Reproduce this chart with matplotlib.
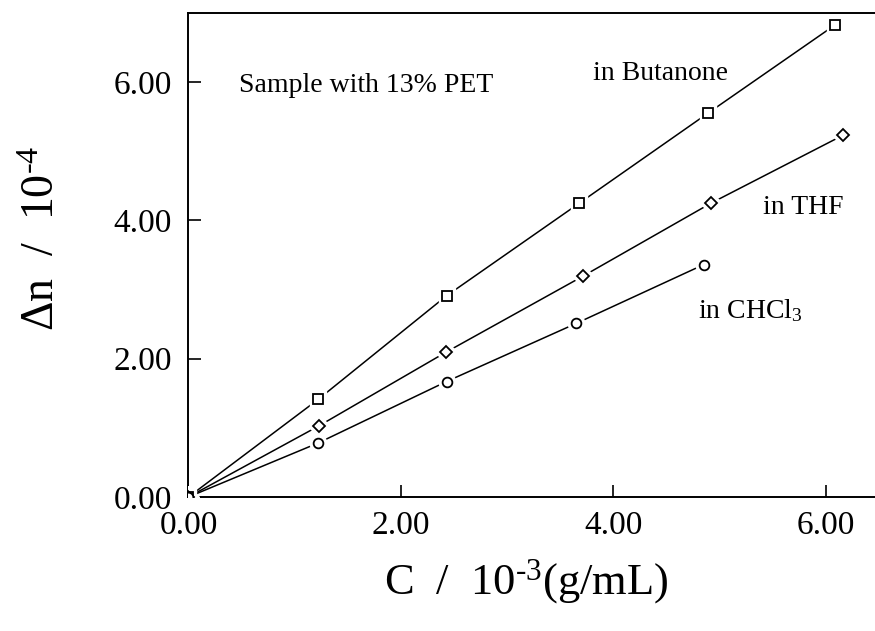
import matplotlib
matplotlib.use('Agg')
import matplotlib.pyplot as plt

plt.rcParams['font.family'] = ['Liberation Serif', 'DejaVu Serif']
plt.rcParams['mathtext.fontset'] = 'custom'
plt.rcParams['mathtext.rm'] = 'Liberation Serif'
plt.rcParams['mathtext.it'] = 'Liberation Serif:italic'

# concentration (10^-3 g/mL) and birefringence (10^-4)
c_butanone = [0.0, 1.22, 2.43, 3.68, 4.89, 6.09]
dn_butanone = [0.0, 1.41, 2.91, 4.25, 5.55, 6.83]
c_thf = [0.0, 1.23, 2.42, 3.71, 4.92, 6.16]
dn_thf = [0.0, 1.03, 2.09, 3.19, 4.25, 5.23]
c_chcl3 = [0.0, 1.22, 2.43, 3.65, 4.85]
dn_chcl3 = [0.0, 0.78, 1.67, 2.51, 3.36]

x_ticks = [0, 2, 4, 6]
y_ticks = [0, 2, 4, 6]

fig = plt.figure(figsize=(8.75, 6.31), dpi=100)
ax = fig.add_axes([0.2154, 0.2124, 0.789, 0.767])

series = [(c_butanone, dn_butanone, 's', 7.0),
          (c_thf, dn_thf, 'D', 6.5),
          (c_chcl3, dn_chcl3, 'o', 7.0)]
for xs, ys, mk, ms in series:
    ax.plot(xs, ys, '-', color='black', lw=1.1, zorder=2)
    # white halo so the line stops short of each marker
    ax.plot(xs, ys, linestyle='none', marker=mk, ms=ms + 5, mfc='white', mec='white', zorder=3)
for xs, ys, mk, ms in series:
    ax.plot(xs, ys, linestyle='none', marker=mk, ms=ms, mfc='white', mec='black', mew=1.3, zorder=4)

ax.set_xlim(0, 6.5)
ax.set_ylim(0, 7.0)
ax.set_xticks(x_ticks)
ax.set_yticks(y_ticks)
ax.set_xticklabels(['%.2f' % v for v in x_ticks])
ax.set_yticklabels(['%.2f' % v for v in y_ticks])
ax.tick_params(axis='both', direction='in', length=9, width=1.2, labelsize=24)
ax.tick_params(axis='x', pad=10)
ax.tick_params(axis='y', pad=12)
for s in ['left', 'bottom', 'top']:
    ax.spines[s].set_linewidth(1.4)
ax.spines['right'].set_visible(False)

ax.set_xlabel(r'C  /  10$^{\text{-3}}$(g/mL)', fontsize=32)
ax.set_ylabel(r'$\Delta$n  /  10$^{\text{-4}}$', fontsize=33)
ax.xaxis.set_label_coords(0.489, -0.125)
ax.yaxis.set_label_coords(-0.18, 0.535)

ax.text(0.475, 5.95, 'Sample with 13% PET', fontsize=20, va='center', ha='left')
ax.text(3.81, 6.13, 'in Butanone', fontsize=20, va='center', ha='left')
ax.text(5.41, 4.18, 'in THF', fontsize=20, va='center', ha='left')
ax.text(4.80, 2.70, 'in CHCl$_3$', fontsize=20, va='center', ha='left')

plt.savefig('out.png', dpi=100)
